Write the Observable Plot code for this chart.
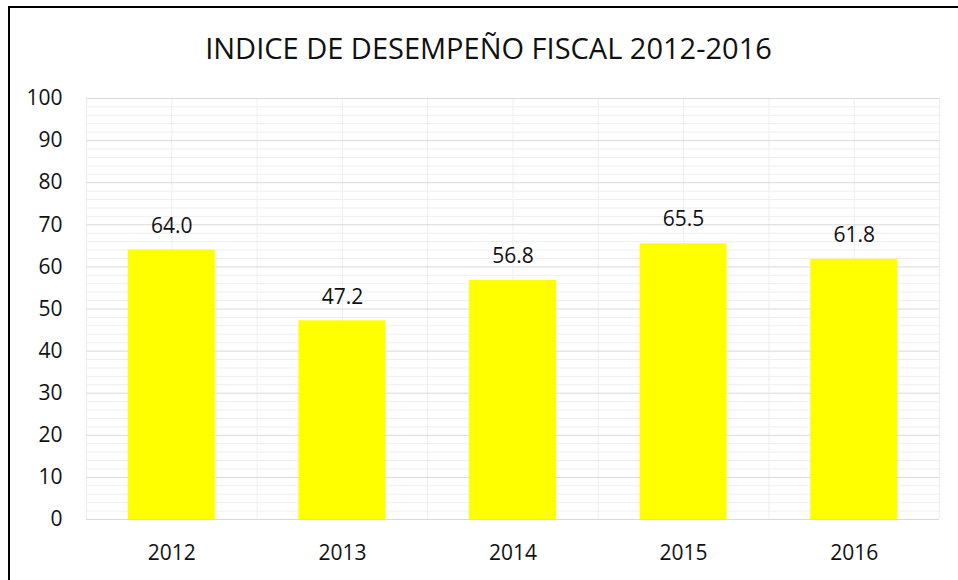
<!DOCTYPE html>
<html>
<head>
<meta charset="utf-8">
<script src="https://cdn.jsdelivr.net/npm/d3@7"></script>
<script src="https://cdn.jsdelivr.net/npm/@observablehq/plot@0.6"></script>
<style>
  html, body { margin: 0; padding: 0; background: #fff; overflow: hidden; }
  #wrap { position: relative; width: 958px; height: 580px; overflow: hidden; font-family: "Open Sans", sans-serif; }
  #frame { position: absolute; left: 8px; top: 6px; width: 1000px; height: 700px; border-top: 2px solid #000; border-left: 2px solid #000; pointer-events: none; }
  #title { height: 80px; position: relative; }
  #title span { position: absolute; left: 488.5px; top: 47px; transform: translate(-50%, -50%); font-size: 29px; color: #111; white-space: nowrap; }
  #chart svg { display: block; }
</style>
</head>
<body>
<div id="wrap">
  <div id="title"><span>INDICE DE DESEMPEÑO FISCAL 2012-2016</span></div>
  <div id="chart"></div>
  <div id="frame"></div>
</div>
<script>
const years = ["2012", "2013", "2014", "2015", "2016"];
const values = [64.0, 47.2, 56.8, 65.5, 61.8];
const yTicks = [0, 10, 20, 30, 40, 50, 60, 70, 80, 90, 100];
const yMinor = d3.range(0, 101, 2).filter(v => v % 10 !== 0);

const data = years.map((year, i) => ({year, value: values[i], i}));
const xCenters = years.map((_, i) => i + 0.5);
const xGrid = d3.range(0, years.length * 2 + 1).map(k => k / 2);

const chart = Plot.plot({
  width: 958,
  height: 500,
  marginTop: 18,
  marginBottom: 61,
  marginLeft: 86,
  marginRight: 19,
  style: {fontFamily: "Open Sans", fontSize: "21px", color: "#111", background: "transparent"},
  x: {domain: [0, years.length], ticks: xCenters, tickFormat: v => years[Math.floor(v)], tickSize: 0, tickPadding: 26, label: null},
  y: {domain: [0, 100], ticks: yTicks, tickSize: 0, tickPadding: 24, label: null},
  marks: [
    Plot.ruleY(yMinor, {stroke: "#eeeeee", strokeWidth: 1}),
    Plot.ruleX(xGrid, {stroke: "#eeeeee", strokeWidth: 1}),
    Plot.ruleY(yTicks, {stroke: "#d9d9d9", strokeWidth: 1}),
    Plot.rectY(data, {x1: d => d.i + 0.245, x2: d => d.i + 0.755, y: "value", fill: "#ffff00"}),
    Plot.text(data, {x: d => d.i + 0.5, y: "value", text: d => d.value.toFixed(1), dy: -24, fontSize: 21, fill: "#111"})
  ]
});
document.getElementById("chart").appendChild(chart);
</script>
</body>
</html>
